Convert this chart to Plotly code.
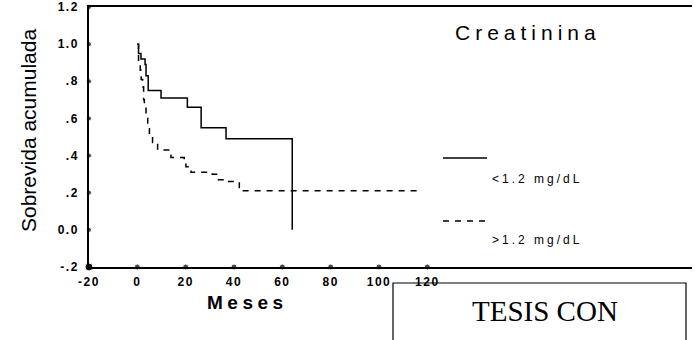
import plotly.graph_objects as go

# Kaplan-Meier steps (months, cumulative survival)
low_t = [0, 0.5, 1.5, 3.2, 3.6, 4.5, 9.8, 20.7, 26.4, 36.7, 64.1]
low_s = [1.0, 0.95, 0.92, 0.89, 0.83, 0.75, 0.71, 0.66, 0.55, 0.49, 0.0]

high_t = [0, 0.5, 1.2, 1.6, 2.2, 2.6, 2.9, 3.6, 4.3, 5.0, 6.3, 8.4, 13.9, 19.4, 20.1, 22.2, 31.0, 33.1, 37.2, 42.2, 117.5]
high_s = [1.0, 0.89, 0.86, 0.81, 0.77, 0.70, 0.66, 0.61, 0.55, 0.51, 0.47, 0.43, 0.39, 0.37, 0.34, 0.31, 0.30, 0.27, 0.26, 0.21, 0.21]

x_ticks = [-20, 0, 20, 40, 60, 80, 100, 120]
x_ticktext = ["-20", "0", "20", "40", "60", "80", "100", "120"]
y_ticks = [-0.2, 0.0, 0.2, 0.4, 0.6, 0.8, 1.0, 1.2]
y_ticktext = ["-.2", "0.0", ".2", ".4", ".6", ".8", "1.0", "1.2"]

series_names = ["<1.2 mg/dL", ">1.2 mg/dL"]
title_text = "Creatinina"
x_title = "Meses"
y_title = "Sobrevida acumulada"
stamp_text = "TESIS CON"

W, H = 695, 340
L, R, T, B = 89, 3, 7, 73
PW = W - L - R
PH = H - T - B
XMIN = -20
XMAX = XMIN + PW / 2.4167


def px(xp):
    return (xp - L) / PW


def py(yp):
    return (H - B - yp) / PH


def ls(text, sp):
    return f'<span style="letter-spacing:{sp}px">{text}</span>'


tickfont = dict(family="Liberation Sans, Arial, sans-serif", size=12, color="black", weight="bold")
DASH = "6px,6px"

fig = go.Figure()
fig.add_trace(go.Scatter(x=low_t, y=low_s, mode="lines", line=dict(shape="hv", color="black", width=1.5),
                         showlegend=False, hoverinfo="skip"))
fig.add_trace(go.Scatter(x=high_t, y=high_s, mode="lines",
                         line=dict(shape="hv", color="black", width=1.5, dash=DASH),
                         showlegend=False, hoverinfo="skip"))
# tick dots
fig.add_trace(go.Scatter(x=[XMIN] * len(y_ticks), y=y_ticks, mode="markers",
                         marker=dict(color="black", size=[8] + [5] * (len(y_ticks) - 1)),
                         cliponaxis=False, showlegend=False, hoverinfo="skip"))
fig.add_trace(go.Scatter(x=x_ticks, y=[y_ticks[0]] * len(x_ticks), mode="markers",
                         marker=dict(color="black", size=[8] + [6] * (len(x_ticks) - 1)),
                         cliponaxis=False, showlegend=False, hoverinfo="skip"))

fig.update_xaxes(range=[XMIN, XMAX], tickvals=x_ticks, ticktext=[ls(t, 1.5) for t in x_ticktext],
                 showgrid=False, zeroline=False, showline=True, linecolor="black", linewidth=1.5,
                 mirror=True, ticks="", tickfont=tickfont, ticklabelstandoff=3)
fig.update_yaxes(range=[-0.2, 1.2], tickvals=y_ticks, ticktext=[ls(t, 1.5) for t in y_ticktext],
                 showgrid=False, zeroline=False, showline=True, linecolor="black", linewidth=1.5,
                 ticks="", tickfont=tickfont, ticklabelstandoff=6)

shapes = [
    dict(type="line", xref="paper", yref="paper", x0=px(443), x1=px(487), y0=py(158), y1=py(158),
         line=dict(color="black", width=1.5)),
    dict(type="line", xref="paper", yref="paper", x0=px(443), x1=px(487), y0=py(221), y1=py(221),
         line=dict(color="black", width=1.5, dash=DASH)),
    dict(type="path", xref="paper", yref="paper",
         path=f"M {px(393)},{py(345)} L {px(393)},{py(283)} L {px(686)},{py(283)} L {px(686)},{py(345)}",
         line=dict(color="black", width=1.2)),
]

ann_font = "Liberation Sans, Arial, sans-serif"
annotations = [
    dict(text=ls(title_text, 5), xref="paper", yref="paper", x=px(453), y=py(33), xanchor="left",
         yanchor="middle", showarrow=False, font=dict(family=ann_font, size=21, color="black")),
    dict(text=ls(series_names[0], 3), xref="paper", yref="paper", x=px(490), y=py(179), xanchor="left",
         yanchor="middle", showarrow=False, font=dict(family=ann_font, size=12, color="black")),
    dict(text=ls(series_names[1], 3), xref="paper", yref="paper", x=px(490), y=py(240), xanchor="left",
         yanchor="middle", showarrow=False, font=dict(family=ann_font, size=12, color="black")),
    dict(text=ls(x_title, 4.5), xref="paper", yref="paper", x=px(205), y=py(302), xanchor="left",
         yanchor="middle", showarrow=False, font=dict(family=ann_font, size=19, color="black", weight="bold")),
    dict(text=y_title, xref="paper", yref="paper", x=px(28), y=py(131), xanchor="center",
         yanchor="middle", textangle=-90, showarrow=False,
         font=dict(family=ann_font, size=21, color="black")),
    dict(text=stamp_text, xref="paper", yref="paper", x=px(545), y=py(311), xanchor="center",
         yanchor="middle", showarrow=False, font=dict(family="Liberation Serif, Times New Roman, serif", size=29, color="black")),
]

fig.update_layout(width=W, height=H, margin=dict(l=L, r=R, t=T, b=B, autoexpand=False),
                  paper_bgcolor="white", plot_bgcolor="white", shapes=shapes, annotations=annotations)

fig.write_html("out.html", config={"displayModeBar": False},
               post_script="document.body.style.margin='0';document.body.style.overflow='hidden';")
